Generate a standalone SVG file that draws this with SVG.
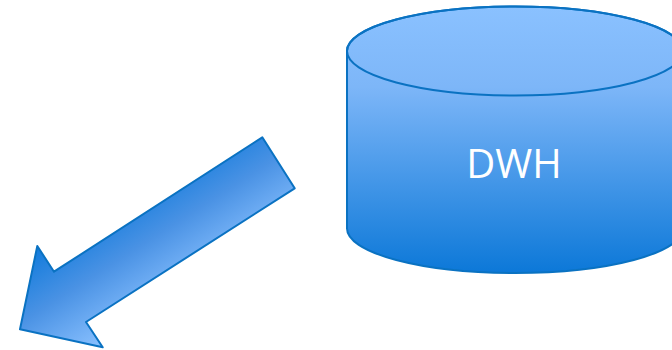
<svg xmlns="http://www.w3.org/2000/svg" width="672" height="350" viewBox="0 0 672 350">
<defs>
<linearGradient id="cylGrad" gradientUnits="userSpaceOnUse" x1="0" y1="7" x2="0" y2="273">
<stop offset="0" stop-color="#8ac1ff"/>
<stop offset="0.3" stop-color="#7db6f8"/>
<stop offset="1" stop-color="#0c78d8"/>
</linearGradient>
<linearGradient id="arrGrad" gradientUnits="userSpaceOnUse" x1="40" y1="248" x2="103" y2="346">
<stop offset="0" stop-color="#147cdc"/>
<stop offset="0.45" stop-color="#4a92e4"/>
<stop offset="1" stop-color="#8ac1ff"/>
</linearGradient>
<style>
.shape{stroke:#0a72c2;stroke-width:2;stroke-linejoin:round}
.label{font-family:"Open Sans","Noto Sans","DejaVu Sans",sans-serif;font-size:40px;fill:#ffffff;text-anchor:middle}
</style>
</defs>
<g id="dwh">
<path class="shape" fill="url(#cylGrad)" d="M347,51 L347,228.5 A168,44.5 0 0 0 683,228.5 L683,51 A168,44.5 0 0 0 347,51 Z"/>
<ellipse class="shape" fill="none" cx="515" cy="51" rx="168" ry="44.5"/>
<text class="label" x="514" y="178">DWH</text>
</g>
<g id="arrow">
<polygon class="shape" fill="url(#arrGrad)" points="262.3,137.3 294.7,188.3 86,322 102.7,347.3 20,329.3 37.3,246 54,271.7"/>
</g>
</svg>
